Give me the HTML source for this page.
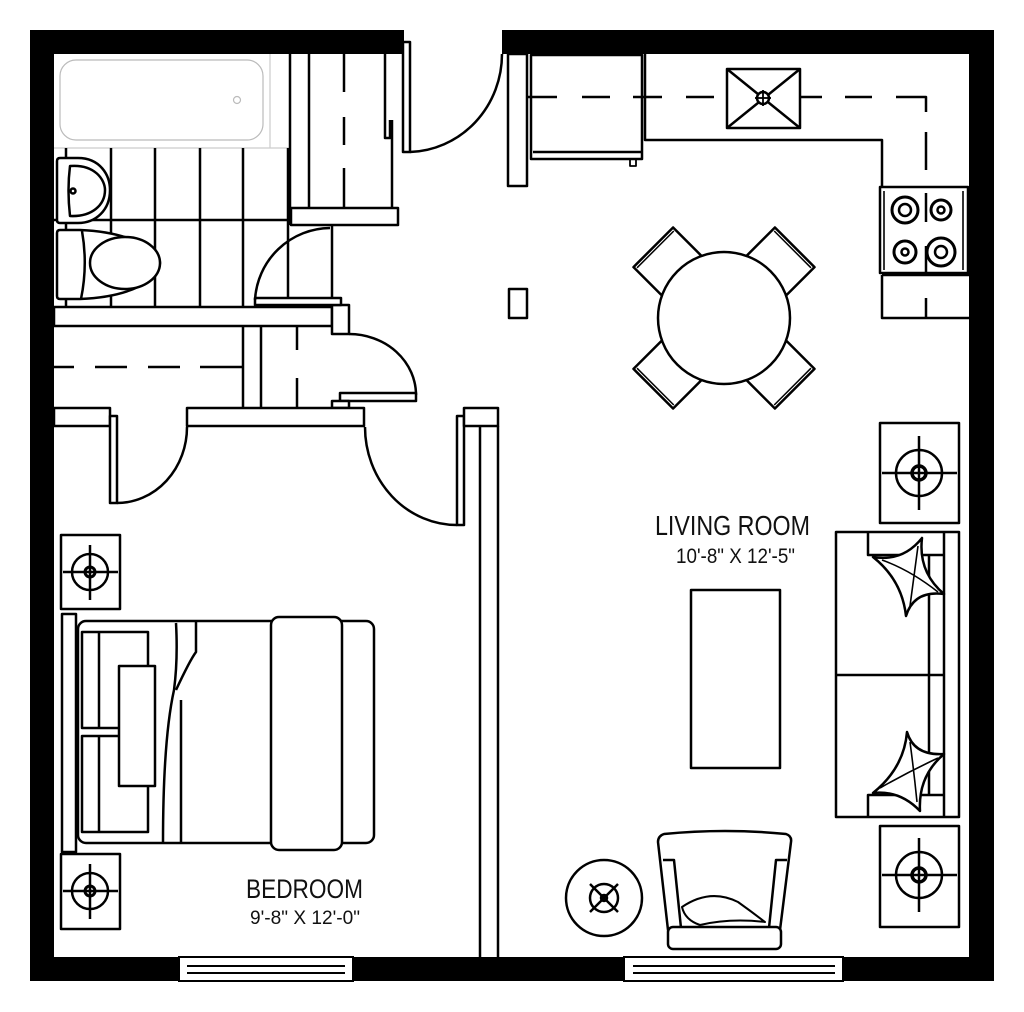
<!DOCTYPE html>
<html><head><meta charset="utf-8"><style>html,body{margin:0;padding:0;background:#fff}svg{display:block}</style></head>
<body>
<svg width="1024" height="1012" viewBox="0 0 1024 1012" xmlns="http://www.w3.org/2000/svg">
<rect width="1024" height="1012" fill="#fff"/>
<g fill="#000">
<rect x="30" y="30" width="374" height="24"/>
<rect x="502" y="30" width="492" height="24"/>
<rect x="30" y="30" width="24" height="951"/>
<rect x="969" y="30" width="25" height="951"/>
<rect x="30" y="957" width="964" height="24"/>
</g>
<g fill="#fff" stroke="#000" stroke-width="2">
<rect x="179" y="957" width="174" height="24"/>
<rect x="624" y="957" width="219" height="24"/>
</g>
<g stroke="#000" stroke-width="2" fill="none">
<line x1="187" y1="966" x2="345" y2="966"/><line x1="187" y1="973" x2="345" y2="973"/>
<line x1="633" y1="966" x2="835" y2="966"/><line x1="633" y1="973" x2="835" y2="973"/>
</g>

<g stroke="#000" stroke-width="2.5" fill="none" stroke-linejoin="round">
<rect x="60" y="60" width="203" height="80" rx="16" stroke="#bbb" stroke-width="1.2"/>
<circle cx="237" cy="100" r="3.5" stroke="#bbb" stroke-width="1.2"/>
<line x1="54" y1="148" x2="290" y2="148" stroke="#ccc" stroke-width="1.2"/>
<line x1="270" y1="54" x2="270" y2="148" stroke="#ccc" stroke-width="1.2"/>
<line x1="66" y1="148" x2="66" y2="307"/>
<line x1="111" y1="148" x2="111" y2="307"/>
<line x1="155" y1="148" x2="155" y2="307"/>
<line x1="200" y1="148" x2="200" y2="307"/>
<line x1="243" y1="148" x2="243" y2="307"/>
<line x1="288" y1="148" x2="288" y2="307"/>
<line x1="54" y1="220" x2="290" y2="220"/>
<line x1="290" y1="54" x2="290" y2="225"/>
<path d="M60 158 H78 C100 158 110 175 110 190 C110 210 96 223 78 223 H60 Q57 223 57 220 V161 Q57 158 60 158Z" fill="#fff"/>
<path d="M70 166 C95 164 105 180 105 190 C105 205 92 217 70 216 Q67 190 70 166Z"/>
<circle cx="73" cy="191" r="2.5"/>
<path d="M60 230 H80 C130 232 160 250 160 263 C160 280 130 297 80 299 H60 Q57 299 57 296 V233 Q57 230 60 230Z" fill="#fff"/>
<path d="M82 231 Q88 265 81 299"/>
<ellipse cx="125" cy="263" rx="35" ry="26" fill="#fff"/>
<rect x="54" y="307" width="278" height="19" fill="#fff"/>
<rect x="332" y="305" width="17" height="29" fill="#fff"/>
<line x1="309" y1="54" x2="309" y2="208"/>
<line x1="344" y1="54" x2="344" y2="92" />
<line x1="344" y1="117" x2="344" y2="145"/>
<line x1="344" y1="168" x2="344" y2="208"/>
<path d="M385 54 V138 H390 V120 M392 120 V208"/>
<rect x="291" y="208" width="107" height="17" fill="#fff"/>
<line x1="332" y1="225" x2="332" y2="300"/>
<rect x="255" y="298" width="86" height="7" fill="#fff"/>
<path d="M255 300 A76 76 0 0 1 330 228"/>
<rect x="403" y="42" width="7" height="110" fill="#fff"/>
<path d="M410 152 A95 98 0 0 0 502 54"/>
<path d="M54 367 H74 M95 367 H127 M148 367 H180 M200 367 H243" />
<line x1="243" y1="326" x2="243" y2="408"/>
<line x1="261" y1="326" x2="261" y2="408"/>
<line x1="297" y1="326" x2="297" y2="350"/>
<line x1="297" y1="378" x2="297" y2="408"/>
<path d="M349 334 A67 61 0 0 1 416 395"/>
<rect x="340" y="393" width="76" height="8" fill="#fff"/>
<rect x="332" y="401" width="17" height="7" fill="#fff"/>
<rect x="54" y="408" width="56" height="18" fill="#fff"/>
<rect x="187" y="408" width="177" height="18" fill="#fff"/>
<rect x="110" y="416" width="7" height="87" fill="#fff"/>
<path d="M117 503 A70 76 0 0 0 187 427"/>
<rect x="457" y="416" width="7" height="109" fill="#fff"/>
<path d="M365 427 A92 98 0 0 0 457 525"/>
<rect x="464" y="408" width="34" height="18" fill="#fff"/>
<line x1="480" y1="426" x2="480" y2="957"/>
<line x1="498" y1="426" x2="498" y2="957"/>

<rect x="508" y="54" width="19" height="132" fill="#fff"/>
<rect x="531" y="55" width="111" height="104" fill="#fff"/>
<line x1="533" y1="152" x2="641" y2="152"/>
<rect x="630" y="159" width="6" height="7" stroke-width="1.8"/>
<path d="M645 54 V140 H882 V187"/>
<path d="M527 97 H557 M582 97 H610 M633 97 H662 M686 97 H714 M800 97 H822 M845 97 H872 M896 97 H926 V112 M926 132 V170" />
<rect x="727" y="69" width="73" height="59" fill="#fff"/>
<line x1="727" y1="69" x2="800" y2="128"/><line x1="800" y1="69" x2="727" y2="128"/>
<circle cx="763" cy="98" r="6" fill="#fff"/>
<line x1="755" y1="98" x2="771" y2="98" stroke-width="1.8"/><line x1="763" y1="90" x2="763" y2="106" stroke-width="1.8"/>
<rect x="880" y="187" width="88" height="86" fill="#fff"/>
<line x1="884" y1="191" x2="884" y2="270" stroke-width="1.6"/>
<line x1="963" y1="191" x2="963" y2="270" stroke-width="1.6"/>
<line x1="926" y1="193" x2="926" y2="222"/>
<line x1="926" y1="246" x2="926" y2="273"/>
<circle cx="905" cy="210" r="13" stroke-width="3"/><circle cx="905" cy="210" r="6"/>
<circle cx="941" cy="210" r="10" stroke-width="3"/><circle cx="941" cy="210" r="3.5"/>
<circle cx="905" cy="252" r="11" stroke-width="3"/><circle cx="905" cy="252" r="3.5"/>
<circle cx="941" cy="252" r="14" stroke-width="3"/><circle cx="941" cy="252" r="6"/>
<path d="M882 275 V318 H969"/>
<line x1="882" y1="275" x2="969" y2="275"/>
<line x1="926" y1="298" x2="926" y2="318"/>
<rect x="509" y="289" width="18" height="29" fill="#fff"/>
<g transform="translate(724 318)">
<g transform="rotate(-45)"><rect x="-28" y="-100" width="56" height="40" fill="#fff"/><line x1="-26" y1="-97" x2="26" y2="-97" stroke-width="1.5"/></g>
<g transform="rotate(45)"><rect x="-28" y="-100" width="56" height="40" fill="#fff"/><line x1="-26" y1="-97" x2="26" y2="-97" stroke-width="1.5"/></g>
<g transform="rotate(135)"><rect x="-28" y="-100" width="56" height="40" fill="#fff"/><line x1="-26" y1="-97" x2="26" y2="-97" stroke-width="1.5"/></g>
<g transform="rotate(225)"><rect x="-28" y="-100" width="56" height="40" fill="#fff"/><line x1="-26" y1="-97" x2="26" y2="-97" stroke-width="1.5"/></g>
<circle cx="0" cy="0" r="66" fill="#fff"/>
</g>

<rect x="880" y="423" width="79" height="100" fill="#fff"/>
<circle cx="919" cy="473" r="23"/><circle cx="919" cy="473" r="7" stroke-width="3.5"/>
<line x1="882" y1="473" x2="957" y2="473"/><line x1="919" y1="436" x2="919" y2="510"/>
<rect x="880" y="826" width="79" height="101" fill="#fff"/>
<circle cx="919" cy="875" r="23"/><circle cx="919" cy="875" r="7" stroke-width="3.5"/>
<line x1="882" y1="875" x2="957" y2="875"/><line x1="919" y1="838" x2="919" y2="912"/>
<rect x="836" y="532" width="123" height="285" fill="#fff"/>
<line x1="944" y1="532" x2="944" y2="817"/>
<line x1="929" y1="555" x2="929" y2="795"/>
<line x1="836" y1="675" x2="944" y2="675"/>
<path d="M944 555 H868 V532"/>
<path d="M944 795 H868 V817"/>
<path d="M873 557 Q903 562 922 538 Q918 572 944 594 Q914 590 906 616 Q902 580 873 557Z" fill="#fff"/>
<path d="M882 560 Q910 570 938 592 M918 546 Q914 575 910 606" stroke-width="1.6"/>
<path d="M907 732 Q914 756 944 754 Q918 776 920 811 Q900 790 873 793 Q904 768 907 732Z" fill="#fff"/>
<path d="M910 742 Q914 772 917 802 M880 788 Q908 772 938 758" stroke-width="1.6"/>
<rect x="691" y="590" width="89" height="178" fill="#fff"/>
<path d="M664 834 Q725 828 786 834 Q792 836 791 842 L780 930 H668 L658 842 Q658 836 664 834Z" fill="#fff"/>
<path d="M663 860 H674 L681 928 M787 860 H776 L769 928"/>
<rect x="668" y="927" width="113" height="22" rx="5" fill="#fff"/>
<path d="M682 907 Q710 888 738 902 Q752 912 765 922 Q730 918 700 925 Q685 920 682 907Z" stroke-width="2"/>
<circle cx="604" cy="898" r="38" fill="#fff"/>
<circle cx="604" cy="898" r="14"/>
<line x1="590" y1="884" x2="618" y2="912"/><line x1="618" y1="884" x2="590" y2="912"/>
<circle cx="604" cy="898" r="3"/>

<rect x="61" y="535" width="59" height="74" fill="#fff"/>
<circle cx="90" cy="572" r="18"/><circle cx="90" cy="572" r="5" stroke-width="3"/>
<line x1="63" y1="572" x2="118" y2="572"/><line x1="90" y1="545" x2="90" y2="600"/>
<rect x="61" y="854" width="59" height="75" fill="#fff"/>
<circle cx="90" cy="891" r="18"/><circle cx="90" cy="891" r="5" stroke-width="3"/>
<line x1="63" y1="891" x2="118" y2="891"/><line x1="90" y1="864" x2="90" y2="919"/>
<rect x="62" y="614" width="14" height="238" fill="#fff"/>
<rect x="78" y="621" width="296" height="222" rx="8" fill="#fff"/>
<rect x="82" y="632" width="66" height="96" fill="#fff"/>
<rect x="82" y="736" width="66" height="96" fill="#fff"/>
<line x1="99" y1="632" x2="99" y2="728"/><line x1="99" y1="736" x2="99" y2="832"/>
<rect x="119" y="666" width="36" height="120" fill="#fff"/>
<line x1="181" y1="700" x2="181" y2="843"/>
<path d="M163 843 Q163 740 174 690 Q178 660 176 623"/>
<path d="M176 690 Q190 660 196 652 L196 621"/>
<rect x="271" y="617" width="71" height="233" rx="8" fill="#fff"/>
</g>

<g font-family="'Liberation Sans', sans-serif" fill="#111">
<text x="655" y="535" font-size="28" textLength="155" lengthAdjust="spacingAndGlyphs">LIVING ROOM</text>
<text x="676" y="563" font-size="21" textLength="119" lengthAdjust="spacingAndGlyphs">10'-8" X 12'-5"</text>
<text x="246" y="898" font-size="27" textLength="117" lengthAdjust="spacingAndGlyphs">BEDROOM</text>
<text x="250" y="924" font-size="19" textLength="110" lengthAdjust="spacingAndGlyphs">9'-8" X 12'-0"</text>
</g>
</svg>
</body></html>
